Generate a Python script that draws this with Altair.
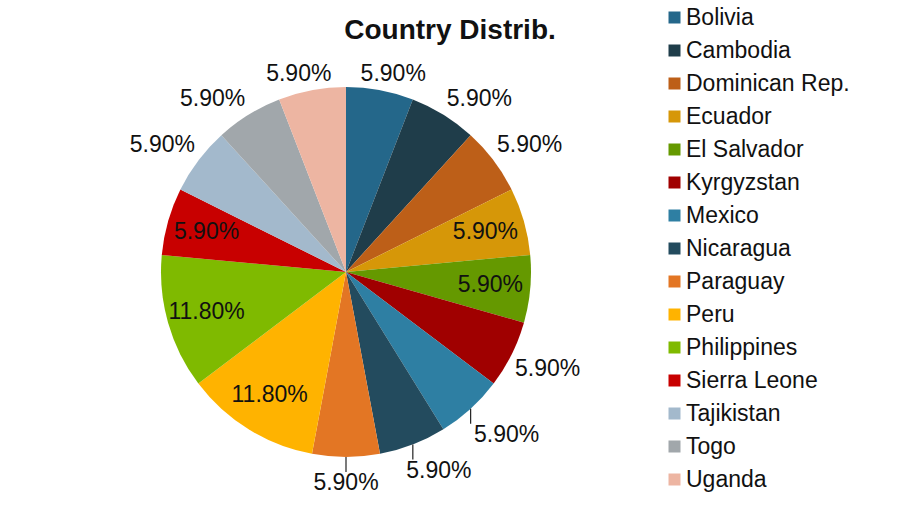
import altair as alt
import pandas as pd

countries = ["Bolivia", "Cambodia", "Dominican Rep.", "Ecuador", "El Salvador",
             "Kyrgyzstan", "Mexico", "Nicaragua", "Paraguay", "Peru",
             "Philippines", "Sierra Leone", "Tajikistan", "Togo", "Uganda"]
shares = [5.9, 5.9, 5.9, 5.9, 5.9, 5.9, 5.9, 5.9, 5.9, 11.8, 11.8, 5.9, 5.9, 5.9, 5.9]
colors = ["#24678A", "#1F3D4A", "#BD5F18", "#D69708", "#659900",
          "#A00000", "#2E7FA3", "#234B5E", "#E37624", "#FFB300",
          "#7FBA00", "#C80000", "#A3B9CC", "#A1A7AB", "#EDB5A2"]
inside_labels = ["Ecuador", "El Salvador", "Peru", "Philippines", "Sierra Leone"]
leader_labels = ["Mexico", "Nicaragua", "Paraguay"]

df = pd.DataFrame({
    "country": countries,
    "share": shares,
    "idx": list(range(len(countries))),
})
df["label"] = [f"{v:.2f}%" for v in shares]
df["inside"] = [c in inside_labels for c in countries]
df["lead"] = [c in leader_labels for c in countries]

CX, CY, R = 346, 222, 185
RIN = 145
FONT = "Liberation Sans"
total = sum(shares)

pie = alt.Chart(df).mark_arc(outerRadius=R).encode(
    theta=alt.Theta("share:Q", stack=True),
    order=alt.Order("idx:Q"),
    x=alt.value(CX), y=alt.value(CY),
    color=alt.Color("country:N",
                    scale=alt.Scale(domain=countries, range=colors),
                    sort=countries,
                    legend=alt.Legend(title=None, orient="none",
                                      legendX=663, legendY=-44,
                                      symbolType="square", symbolSize=144,
                                      symbolStrokeWidth=0,
                                      labelFont=FONT, labelFontSize=23,
                                      labelColor="#111111", labelOffset=0,
                                      rowPadding=9, labelLimit=300)),
)

geo = alt.Chart(df).transform_window(
    cum="sum(share)", sort=[alt.SortField("idx")]
).transform_calculate(
    ang=f"2*PI*(datum.cum - datum.share/2)/{total}",
).transform_calculate(
    sx="sin(datum.ang)", cs="cos(datum.ang)",
).transform_calculate(
    ex=f"{CX} + {R}*datum.sx",
    ey=f"{CY} - {R}*datum.cs",
    lx=f"datum.inside ? {CX} + {RIN}*datum.sx : {CX} + {R}*datum.sx + 36*clamp(2*datum.sx, -1, 1)",
    ly=f"datum.inside ? {CY} - {RIN}*datum.cs : {CY} - {R}*datum.cs - (datum.lead ? 26 : 16)*clamp(2*datum.cs, -1, 1)",
)

labels = geo.mark_text(font=FONT, fontSize=23, color="#111111").encode(
    x=alt.X("lx:Q", scale=None), y=alt.Y("ly:Q", scale=None), text="label:N")

leaders = geo.transform_filter("datum.lead").transform_calculate(
    ty="datum.ly - 11"
).mark_rule(color="#222222", strokeWidth=1.2).encode(
    x=alt.X("ex:Q", scale=None), y=alt.Y("ey:Q", scale=None), y2="ty:Q")

chart = alt.layer(pie, leaders, labels).properties(
    width=900, height=470,
    padding={"left": 0, "top": 50, "right": 0, "bottom": 0},
    autosize="none",
    background="white",
    title=alt.TitleParams("Country Distrib.", font=FONT, fontSize=28,
                          fontWeight="bold", color="#111111", anchor="middle",
                          frame="group", baseline="alphabetic", offset=13, dy=74),
).configure_view(strokeWidth=0, stroke=None)

chart.save("out.html", embed_options={"renderer": "svg", "actions": False})
